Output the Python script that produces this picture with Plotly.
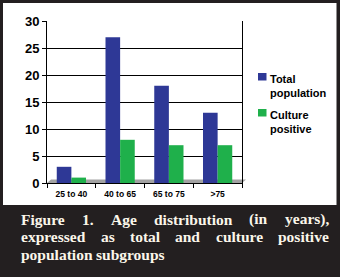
import plotly.graph_objects as go

# ---- data ----
categories = ["25 to 40", "40 to 65", "65 to 75", ">75"]
total_population = [3, 27, 18, 13]
culture_positive = [1, 8, 7, 7]
series_names = ["Total<br>population", "Culture<br>positive"]
series_colors = ["#2e3896", "#1fb04b"]
y_ticks = [0, 5, 10, 15, 20, 25, 30]
caption_lines = [
    "Figure 1. Age distribution (in years),",
    "expressed as total and culture positive",
    "population subgroups",
]

# ---- geometry ----
W, H = 340, 277
L, R, T, B = 47, 98, 21, 94
PW, PH = W - L - R, H - T - B


def px(x):
    return (x - L) / PW


def py(y):
    return (H - B - y) / PH


# Times-Bold metrics (Liberation Serif Bold is metric compatible)
TB = {
    'a': 500, 'b': 556, 'c': 444, 'd': 556, 'e': 444, 'f': 333, 'g': 500, 'h': 556,
    'i': 278, 'j': 333, 'k': 556, 'l': 278, 'm': 833, 'n': 556, 'o': 500, 'p': 556,
    'q': 556, 'r': 444, 's': 389, 't': 333, 'u': 556, 'v': 500, 'w': 722, 'x': 500,
    'y': 500, 'z': 444, 'A': 722, 'F': 611, '1': 500, '.': 250, ',': 250, '(': 333,
    ')': 333, ' ': 250,
}


def tw(s, size):
    return sum(TB.get(c, 500) for c in s) * size / 1000.0


fig = go.Figure()
fig.add_trace(go.Bar(x=categories, y=total_population, name=series_names[0],
                     marker=dict(color=series_colors[0], line=dict(width=0)),
                     showlegend=False))
fig.add_trace(go.Bar(x=categories, y=culture_positive, name=series_names[1],
                     marker=dict(color=series_colors[1], line=dict(width=0)),
                     showlegend=False))

shapes = []
# white chart panel
shapes.append(dict(type="rect", xref="paper", yref="paper", layer="below",
                   x0=px(3), x1=px(336.5), y0=py(205), y1=py(3),
                   fillcolor="white", line=dict(width=0)))
# grey floor
shapes.append(dict(type="path", xref="paper", yref="paper", layer="below",
                   path="M {a},{b} L {c},{b} L {d},{e} L {f},{e} Z".format(
                       a=px(47), b=py(183), c=px(242), d=px(246), e=py(179.5), f=px(51)),
                   fillcolor="#a3a3a3", line=dict(width=0)))

annotations = []
# legend (manual)
leg_y = [72, 108]
for name, col, yy in zip(series_names, series_colors, leg_y):
    shapes.append(dict(type="rect", xref="paper", yref="paper",
                       x0=px(258), x1=px(266.5), y0=py(yy + 8.5), y1=py(yy + 1),
                       fillcolor=col, line=dict(width=0)))
    annotations.append(dict(text=name, xref="paper", yref="paper", x=px(268), y=py(yy - 1),
                            xanchor="left", yanchor="top", align="left", showarrow=False,
                            font=dict(family="Liberation Sans, Arial", size=11, color="black",
                                      weight="bold")))

# caption, justified
cap_size = 15.5
cap_left, cap_right = 20, 328
cap_y = [219, 236.5, 254]
for i, (line, yy) in enumerate(zip(caption_lines, cap_y)):
    words = line.split(" ")
    widths = [tw(w, cap_size) for w in words]
    if i < len(caption_lines) - 1:
        gap = (cap_right - cap_left - sum(widths)) / (len(words) - 1)
    else:
        gap = tw(" ", cap_size)
    x = cap_left
    for w, wd in zip(words, widths):
        annotations.append(dict(text=w, xref="paper", yref="paper", x=px(x), y=py(yy),
                                xanchor="left", yanchor="middle", showarrow=False,
                                borderpad=0,
                                font=dict(family="Liberation Serif, Times New Roman", size=cap_size,
                                          color="#fbf6ea", weight="bold")))
        x += wd + gap

fig.update_layout(
    width=W, height=H,
    margin=dict(l=L, r=R, t=T, b=B, pad=0),
    paper_bgcolor="#231f20",
    plot_bgcolor="rgba(0,0,0,0)",
    barmode="group", bargap=0.4, bargroupgap=0.0,
    shapes=shapes, annotations=annotations,
    showlegend=False,
    xaxis=dict(showgrid=False, showline=True, linecolor="black", linewidth=1,
               ticks="outside", tickson="boundaries", ticklen=4, tickcolor="black",
               ticklabelstandoff=3,
               tickfont=dict(family="Liberation Sans, Arial", size=8.5, color="black",
                             weight="bold")),
    yaxis=dict(range=[0, 30], tickvals=y_ticks, showgrid=True, gridcolor="black",
               gridwidth=1.2, showline=True, linecolor="black", linewidth=1, mirror=True,
               ticks="outside", ticklen=4, tickcolor="black", zeroline=False,
               tickfont=dict(family="Liberation Sans, Arial", size=13, color="black",
                             weight="bold")),
)

fig.write_html("out.html", config={"displayModeBar": False},
               post_script="document.body.style.margin='0';")
